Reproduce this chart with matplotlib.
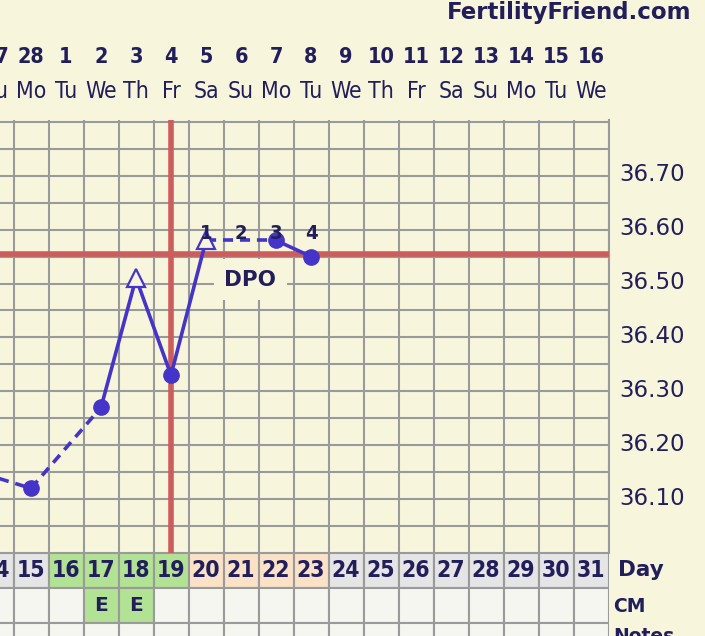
import matplotlib

matplotlib.use("Agg")
import matplotlib.pyplot as plt
import matplotlib.transforms as mtransforms
import numpy as np
from matplotlib.ticker import FuncFormatter

W, H = 705, 636

BG = "#f7f5dc"
INK = "#221e5c"
GRID = "#9a9a9a"
BLUE = "#4434c8"
RED = "#cd5c5c"
GRAY_CELL = "#e5e5e5"
GREEN_CELL = "#b2e294"
PEACH_CELL = "#fbe2c7"
PLAIN_CELL = "#f6f6f0"

# chart columns
CYCLE_DAYS = list(range(14, 32))
DATES = ["27", "28", "1", "2", "3", "4", "5", "6", "7", "8",
         "9", "10", "11", "12", "13", "14", "15", "16"]
WEEKDAYS = ["Su", "Mo", "Tu", "We", "Th", "Fr", "Sa", "Su", "Mo",
            "Tu", "We", "Th", "Fr", "Sa", "Su", "Mo", "Tu", "We"]

# temperatures
TEMP_DAYS = [13, 15, 17, 18, 19, 20, 22, 23]
TEMPS = [36.16, 36.12, 36.27, 36.51, 36.33, 36.58, 36.58, 36.55]
OPEN_MARK = [False, False, False, True, False, True, False, False]
SEG_DASHED = [True, True, False, False, False, True, False]

TEMP_LABELS = [36.10, 36.20, 36.30, 36.40, 36.50, 36.60, 36.70]

COVERLINE = 36.555
OVULATION_DAY = 19
DPO_DAYS = [20, 21, 22, 23]
DPO_NUMS = ["1", "2", "3", "4"]

FERTILE_DAYS = [16, 17, 18, 19]
LUTEAL_DAYS = [20, 21, 22, 23]
CM_DAYS = [17, 18]
CM_CODES = ["E", "E"]

COND = dict(family="DejaVu Sans", fontstretch="condensed")


def day_color(day):
    if day in FERTILE_DAYS:
        return GREEN_CELL
    if day in LUTEAL_DAYS:
        return PEACH_CELL
    return GRAY_CELL


def main():
    fig = plt.figure(figsize=(W / 100, H / 100), dpi=100, facecolor=BG)

    x_left = 15 - 31 / 35
    ax = fig.add_axes([0, (H - 553) / H, 608.5 / W, (553 - 120) / H])
    ax.set_facecolor(BG)

    ax.set_xticks(np.arange(13.5, 32, 1))
    ax.tick_params(axis="x", length=0, labelbottom=False)
    ax.set_yticks(np.round(np.arange(36.0, 36.81, 0.05), 2))
    ax.yaxis.set_major_formatter(
        FuncFormatter(lambda v, _: f"{v:.2f}" if any(abs(v - t) < 1e-6 for t in TEMP_LABELS) else "")
    )
    ax.set_xlim(x_left, 31.5)
    ax.set_ylim(36.0, 36.0 + 433 / 539)
    ax.yaxis.tick_right()
    ax.tick_params(axis="y", length=0, pad=7.5, labelsize=16.5, labelcolor=INK)
    lift = mtransforms.ScaledTranslation(0, 3.5 / 100, fig.dpi_scale_trans)
    for label in ax.get_yticklabels():
        label.set_transform(label.get_transform() + lift)
    ax.grid(True, color=GRID, lw=1.5, zorder=1)
    ax.set_axisbelow(True)
    for side in ["left", "top", "bottom"]:
        ax.spines[side].set_visible(False)
    ax.spines["right"].set_color(GRID)
    ax.spines["right"].set_linewidth(1.5)

    ax.axvline(OVULATION_DAY, color=RED, lw=4, zorder=3)
    ax.axhline(COVERLINE, color=RED, lw=4, zorder=3)

    for i, dashed in enumerate(SEG_DASHED):
        ax.plot(
            TEMP_DAYS[i:i + 2],
            TEMPS[i:i + 2],
            color=BLUE,
            lw=2.6,
            ls=(0, (2.8, 1.9)) if dashed else "-",
            zorder=4,
        )

    closed_x = [d for d, o in zip(TEMP_DAYS, OPEN_MARK) if not o]
    closed_y = [t for t, o in zip(TEMPS, OPEN_MARK) if not o]
    open_x = [d for d, o in zip(TEMP_DAYS, OPEN_MARK) if o]
    open_y = [t for t, o in zip(TEMPS, OPEN_MARK) if o]
    ax.plot(closed_x, closed_y, "o", ms=11, color=BLUE, zorder=5)
    ax.plot(open_x, open_y, "^", ms=13, mfc=BG, mec=BLUE, mew=1.6, zorder=5)

    for day, num in zip(DPO_DAYS, DPO_NUMS):
        ax.text(day, 36.592, num, ha="center", va="center", fontsize=14.5,
                fontweight="bold", color=INK, zorder=6, **COND)
    ax.text(21.27, 36.507, "DPO", ha="center", va="center", fontsize=15.5,
            fontweight="bold", color=INK, zorder=6,
            bbox=dict(boxstyle="square,pad=0.5", fc=BG, ec="none"))

    # header rows
    head = mtransforms.blended_transform_factory(ax.transData, fig.transFigure)
    for day, date, wd in zip(CYCLE_DAYS, DATES, WEEKDAYS):
        ax.text(day, 1 - 57 / H, date, transform=head, ha="center", va="center",
                fontsize=15.5, fontweight="bold", color=INK, **COND)
        ax.text(day, 1 - 91 / H, wd, transform=head, ha="center", va="center",
                fontsize=16.5, color=INK, **COND)
    fig.text(691 / W, 1 - 13 / H, "FertilityFriend.com", ha="right", va="center",
             fontsize=16.5, fontweight="bold", color=INK)

    # bottom table
    tab = fig.add_axes([0, 0, 608.5 / W, 83 / H])
    tab.set_xlim(x_left, 31.5)
    tab.set_ylim(83 / 35, 0)
    tab.axis("off")
    tab.bar(CYCLE_DAYS, 1, width=1, bottom=0, align="center",
            color=[day_color(d) for d in CYCLE_DAYS], edgecolor=GRID, lw=1.5)
    tab.bar(CYCLE_DAYS, 1, width=1, bottom=1, align="center",
            color=[GREEN_CELL if d in CM_DAYS else PLAIN_CELL for d in CYCLE_DAYS],
            edgecolor=GRID, lw=1.5)
    tab.bar(CYCLE_DAYS, 1, width=1, bottom=2, align="center",
            color=PLAIN_CELL, edgecolor=GRID, lw=1.5)
    for day in CYCLE_DAYS:
        tab.text(day, 0.5, str(day), ha="center", va="center", fontsize=16.5,
                 fontweight="bold", color=INK, **COND)
    for day, code in zip(CM_DAYS, CM_CODES):
        tab.text(day, 1.5, code, ha="center", va="center", fontsize=14.5,
                 fontweight="bold", color=INK)

    fig.text(618 / W, 1 - 570 / H, "Day", ha="left", va="center", fontsize=15.5,
             fontweight="bold", color=INK)
    fig.text(613 / W, 1 - 606 / H, "CM", ha="left", va="center", fontsize=13.5,
             fontweight="bold", color=INK)
    fig.text(613 / W, 1 - 627 / H, "Notes", ha="left", va="top", fontsize=13.5,
             fontweight="bold", color=INK)

    fig.savefig("out.png", dpi=100, facecolor=BG)


if __name__ == "__main__":
    main()
